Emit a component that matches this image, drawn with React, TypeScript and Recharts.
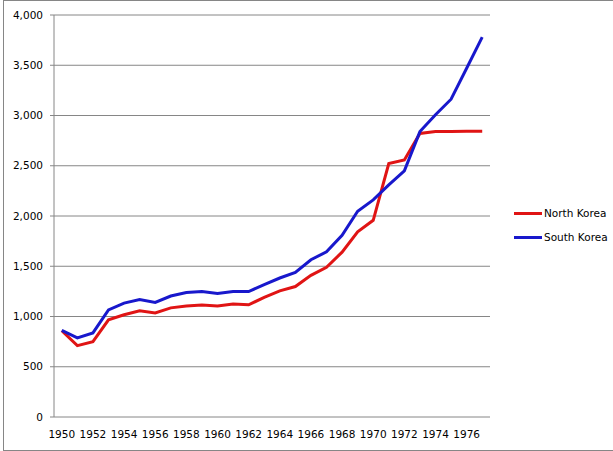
import { CartesianGrid, Legend, Line, LineChart, XAxis, YAxis } from "recharts";

const years = [
  1950, 1951, 1952, 1953, 1954, 1955, 1956, 1957, 1958, 1959, 1960, 1961, 1962, 1963,
  1964, 1965, 1966, 1967, 1968, 1969, 1970, 1971, 1972, 1973, 1974, 1975, 1976, 1977,
];

const northKorea = [
  858, 710, 750, 967, 1017, 1056, 1036, 1086, 1105, 1115, 1105, 1125, 1117, 1190,
  1255, 1298, 1410, 1490, 1640, 1843, 1957, 2522, 2557, 2822, 2840, 2842, 2843, 2843,
];

const southKorea = [
  862, 787, 837, 1066, 1133, 1168, 1140, 1204, 1238, 1248, 1228, 1248, 1248, 1318,
  1383, 1438, 1565, 1643, 1808, 2048, 2160, 2310, 2450, 2840, 3007, 3162, 3470, 3780,
];

const yTicks = [0, 500, 1000, 1500, 2000, 2500, 3000, 3500, 4000];
const yearLabels = years.filter((y) => y % 2 === 0);
const categoryEdges = [...years.map((y) => y - 0.5), years[years.length - 1] + 0.5];

const data = years.map((year, i) => ({
  year,
  north: northKorea[i],
  south: southKorea[i],
}));

const AXIS = "#868686";
const FONT = "'DejaVu Sans', Tahoma, sans-serif";
const tickText = { fill: "#000", fontSize: 10.5, fontFamily: FONT };

type LegendItem = { value?: string; color?: string };

function LegendBox({ payload }: { payload?: LegendItem[] }) {
  return (
    <div style={{ fontFamily: FONT, fontSize: 10.5, color: "#000" }}>
      {(payload ?? []).map((item) => (
        <div key={item.value} style={{ display: "flex", alignItems: "center", height: 24 }}>
          <span style={{ display: "inline-block", width: 28, height: 3, background: item.color, marginRight: 2 }} />
          <span>{item.value}</span>
        </div>
      ))}
    </div>
  );
}

export default function App() {
  return (
    <div style={{ position: "absolute", left: 0, top: 0, width: 613, height: 451, overflow: "hidden", background: "#fff" }}>
      <div
        style={{
          position: "absolute",
          left: 3,
          top: 0,
          width: 620,
          height: 451,
          boxSizing: "border-box",
          border: `1px solid ${AXIS}`,
        }}
      />
      <LineChart
        width={613}
        height={451}
        data={data}
        margin={{ top: 15, right: 123, bottom: 4, left: 0 }}
        style={{ position: "absolute", left: 0, top: 0 }}
      >
        <CartesianGrid vertical={false} stroke={AXIS} strokeWidth={1} xAxisId="edges" />
        <XAxis
          xAxisId="edges"
          dataKey="year"
          type="number"
          domain={[categoryEdges[0], categoryEdges[categoryEdges.length - 1]]}
          ticks={categoryEdges}
          interval={0}
          height={0}
          stroke={AXIS}
          tickSize={5}
          tick={() => <g />}
        />
        <XAxis
          xAxisId="year"
          dataKey="year"
          type="number"
          domain={[categoryEdges[0], categoryEdges[categoryEdges.length - 1]]}
          ticks={yearLabels}
          interval={0}
          height={30}
          axisLine={false}
          tickLine={false}
          tickSize={0}
          tickMargin={14}
          tick={tickText}
        />
        <YAxis
          width={54}
          domain={[0, 4000]}
          ticks={yTicks}
          interval={0}
          stroke={AXIS}
          tickSize={4}
          tickMargin={7}
          tick={tickText}
          tickFormatter={(v: number) => v.toLocaleString("en-US")}
        />
        <Legend
          layout="horizontal"
          verticalAlign="middle"
          align="center"
          wrapperStyle={{ left: 514, top: 201, width: 99 }}
          content={(props: any) => <LegendBox payload={props.payload} />}
        />
        <Line
          xAxisId="year"
          type="linear"
          dataKey="north"
          name="North Korea"
          stroke="#e01414"
          strokeWidth={3}
          dot={false}
          activeDot={false}
          isAnimationActive={false}
        />
        <Line
          xAxisId="year"
          type="linear"
          dataKey="south"
          name="South Korea"
          stroke="#1818cc"
          strokeWidth={3}
          dot={false}
          activeDot={false}
          isAnimationActive={false}
        />
      </LineChart>
    </div>
  );
}
